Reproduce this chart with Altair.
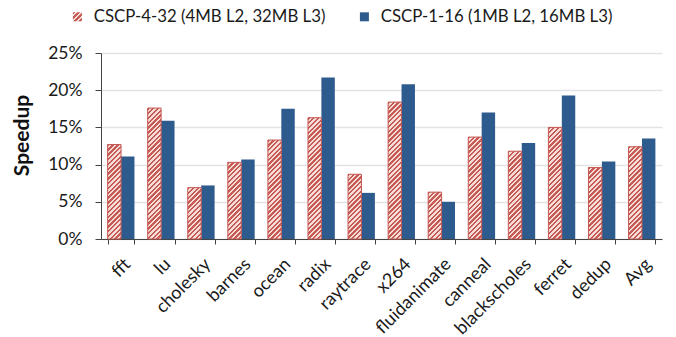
import altair as alt
import pandas as pd

# Speedup of the two CSCP cache configurations per benchmark (percent)
benchmarks = ["fft", "lu", "cholesky", "barnes", "ocean", "radix", "raytrace",
              "x264", "fluidanimate", "canneal", "blackscholes", "ferret", "dedup", "Avg"]
cscp_4_32 = [12.7, 17.6, 6.9, 10.3, 13.3, 16.3, 8.7, 18.4, 6.3, 13.7, 11.8, 15.0, 9.6, 12.4]
cscp_1_16 = [11.1, 15.9, 7.2, 10.7, 17.5, 21.7, 6.2, 20.8, 5.0, 17.0, 12.9, 19.3, 10.4, 13.5]
series_names = ["CSCP-4-32 (4MB L2, 32MB L3)", "CSCP-1-16 (1MB L2, 16MB L3)"]
y_ticks = [0, 5, 10, 15, 20, 25]

HATCH_RED = "#C65A55"
HATCH_BG = "#F7DCD8"
BLUE = "#2E5B8E"
FONT = "Lato"

rows = []
for b, a, c in zip(benchmarks, cscp_4_32, cscp_1_16):
    rows.append({"bench": b, "config": series_names[0], "speedup": a})
    rows.append({"bench": b, "config": series_names[1], "speedup": c})
df = pd.DataFrame(rows)

# Diagonal hatch built from a hard-stop linear gradient: one red/pink stripe
# pair every PERIOD px measured along x + y, over a run of SPAN px.
SPAN = 260.0
PERIOD = 4.8
stop_parts = []
k = 0
while k * PERIOD < SPAN:
    o = k * PERIOD / SPAN
    m = min((k * PERIOD + PERIOD / 2) / SPAN, 1.0)
    e = min((k + 1) * PERIOD / SPAN, 1.0)
    for off, col in ((o, HATCH_RED), (m, HATCH_RED), (m, HATCH_BG), (e, HATCH_BG)):
        stop_parts.append("{offset: %.5f, color: '%s'}" % (off, col))
    k += 1
stops_js = "[" + ", ".join(stop_parts) + "]"

# Gradient vector in bounding-box units so the stripes stay at 45 degrees
# whatever the bar's aspect ratio.
bw = "bandwidth('xOffset')"
bh = "max(1, scale('y', 0) - scale('y', datum.speedup))"
d2 = "(" + bw + "*" + bw + " + " + bh + "*" + bh + ")"
bar_hatch = ("{gradient: 'linear', x1: 0, y1: 0, x2: " + str(SPAN) + "*" + bw + "/" + d2 +
             ", y2: " + str(SPAN) + "*" + bh + "/" + d2 + ", stops: " + stops_js + "}")
SYM = 9
legend_hatch = ("{gradient: 'linear', x1: 0, y1: 0, x2: %f, y2: %f, stops: %s}"
                % (SPAN / (2 * SYM), SPAN / (2 * SYM), stops_js))

x_enc = alt.X("bench:N", sort=benchmarks,
              scale=alt.Scale(paddingInner=0.33, paddingOuter=0.165),
              axis=alt.Axis(title=None, labelAngle=-45, labelFont=FONT, labelFontSize=18,
                            labelColor="#1a1a1a", tickBand="extent", tickSize=5,
                            tickColor="#444", domainColor="#444", labelPadding=11,
                            labelLimit=0, grid=False))
xoff_enc = alt.XOffset("config:N", sort=series_names,
                       scale=alt.Scale(domain=series_names, paddingInner=0, paddingOuter=0))
y_enc = alt.Y("speedup:Q", scale=alt.Scale(domain=[0, 25], nice=False),
              axis=alt.Axis(title="Speedup", values=y_ticks, labelExpr="datum.value + '%'",
                            labelFont=FONT, labelFontSize=17.5, labelColor="#1a1a1a",
                            tickSize=6, tickColor="#444", domainColor="#444",
                            labelPadding=13, gridColor="#E3E3E3", gridWidth=1.5,
                            titleFont=FONT, titleFontSize=21, titleFontWeight="bold",
                            titleColor="#111", titleX=-79, titleY=82,
                            titleBaseline="middle"))

base = alt.Chart(df).mark_bar().encode(
    x=x_enc, xOffset=xoff_enc, y=y_enc,
    color=alt.Color("config:N", sort=series_names,
                    scale=alt.Scale(domain=series_names,
                                    range=[{"expr": legend_hatch}, BLUE]),
                    legend=alt.Legend(title=None, orient="none", legendX=-32, legendY=-45,
                                      direction="horizontal", symbolType="square",
                                      symbolSize=SYM * SYM, symbolStrokeWidth=0,
                                      labelFont=FONT, labelFontSize=16.8, labelLimit=0,
                                      labelColor="#1a1a1a", columnPadding=30,
                                      labelOffset=8)),
)

hatched = alt.Chart(df).transform_filter(
    alt.datum.config == series_names[0]
).mark_bar(fill={"expr": bar_hatch}, stroke=HATCH_RED, strokeWidth=1).encode(
    x=x_enc, xOffset=xoff_enc, y=y_enc,
)

chart = alt.layer(base, hatched).properties(
    width=561, height=186,
    autosize=alt.AutoSizeParams(type="none"),
    padding={"left": 101, "top": 53, "right": 14, "bottom": 98},
).configure_view(stroke=None)

chart.save("out.html", embed_options={"renderer": "svg", "actions": False})
